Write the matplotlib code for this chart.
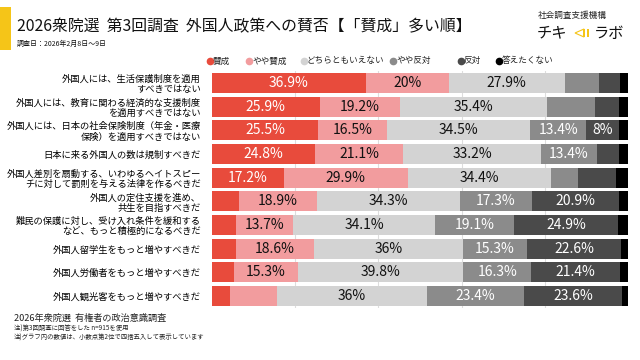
import matplotlib
matplotlib.use("Agg")
import matplotlib.pyplot as plt
from matplotlib.patches import Rectangle, Polygon
from matplotlib.lines import Line2D
import numpy as np

plt.rcParams['font.family'] = ['Noto Sans CJK JP', 'DejaVu Sans']

categories = [
    "外国人には、生活保護制度を適用\nすべきではない",
    "外国人には、教育に関わる経済的な支援制度\nを適用すべきではない",
    "外国人には、日本の社会保険制度（年金・医療\n保険）を適用すべきではない",
    "日本に来る外国人の数は規制すべきだ",
    "外国人差別を扇動する、いわゆるヘイトスピー\nチに対して罰則を与える法律を作るべきだ",
    "外国人の定住支援を進め、\n共生を目指すべきだ",
    "難民の保護に対し、受け入れ条件を緩和する\nなど、もっと積極的になるべきだ",
    "外国人留学生をもっと増やすべきだ",
    "外国人労働者をもっと増やすべきだ",
    "外国人観光客をもっと増やすべきだ",
]
series_names = ["賛成", "やや賛成", "どちらともいえない", "やや反対", "反対", "答えたくない"]
sansei     = [36.9, 25.9, 25.5, 24.8, 17.2, 6.4, 5.8, 5.8, 5.3, 4.3]
yaya_sansei = [20.0, 19.2, 16.5, 21.1, 29.9, 18.9, 13.7, 18.6, 15.3, 11.3]
dochira    = [27.9, 35.4, 34.5, 33.2, 34.4, 34.3, 34.1, 36.0, 39.8, 36.0]
yaya_hantai = [8.3, 11.5, 13.4, 13.4, 6.5, 17.3, 19.1, 15.3, 16.3, 23.4]
hantai     = [5.0, 5.8, 8.0, 5.3, 9.1, 20.9, 24.9, 22.6, 21.4, 23.6]
kotaetakunai = [1.9, 2.2, 2.1, 2.2, 2.9, 2.2, 2.4, 1.7, 1.9, 1.4]
# which segment values are printed on the bars (as in the original)
shown = [
    [1, 1, 1, 0, 0, 0],
    [1, 1, 1, 0, 0, 0],
    [1, 1, 1, 1, 1, 0],
    [1, 1, 1, 1, 0, 0],
    [1, 1, 1, 0, 0, 0],
    [0, 1, 1, 1, 1, 0],
    [0, 1, 1, 1, 1, 0],
    [0, 1, 1, 1, 1, 0],
    [0, 1, 1, 1, 1, 0],
    [0, 0, 1, 1, 1, 0],
]
colors = ["#E84B3C", "#F29C9E", "#D3D3D3", "#8B8B8B", "#4A4A4A", "#000000"]
text_colors = ["white", "#111111", "#111111", "white", "white", "white"]

series = [sansei, yaya_sansei, dochira, yaya_hantai, hantai, kotaetakunai]

fig = plt.figure(figsize=(6.4, 3.6), dpi=100)
fig.patch.set_facecolor("white")

ax = fig.add_axes([212/640, 1-308/360, 416/640, 237/360])
n = len(categories)
y = np.arange(n)
left = np.zeros(n)
for i, vals in enumerate(series):
    vals = np.array(vals)
    ax.barh(y, vals, left=left, height=0.84, color=colors[i], zorder=2, linewidth=0)
    for r in range(n):
        if shown[r][i]:
            ax.text(left[r] + vals[r]/2, y[r], f"{vals[r]:g}%", ha="center", va="center",
                    fontsize=10, color=text_colors[i], zorder=3)
    left += vals

ax.set_xlim(0, 100)
ax.set_ylim(n - 0.5, -0.5)
for gx in [20, 40, 60, 80]:
    ax.axvline(gx, color="#DDDDDD", lw=0.8, zorder=1)
for s in ax.spines.values():
    s.set_visible(False)
ax.set_xticks([])
ax.set_yticks(y)
ax.set_yticklabels(categories, fontsize=6.7, linespacing=1.15)
ax.tick_params(axis="y", length=0, pad=8)

# title block
fig.add_artist(Rectangle((0, 1-50/360), 11/640, 43/360, transform=fig.transFigure,
                         color="#F5C518", lw=0))
fig.text(17/640, 1-27/360, "2026衆院選  第3回調査  外国人政策への賛否【「賛成」多い順】",
         fontsize=11.4, va="center", ha="left", color="#111111")
fig.text(17/640, 1-43.5/360, "調査日：2026年2月8日～9日", fontsize=5, va="center", ha="left",
         color="#111111")

# logo
fig.text(538/640, 1-15.5/360, "社会調査支援機構", fontsize=6.2, va="center", ha="left", color="#222222")
fig.text(537/640, 1-33/360, "チキ", fontsize=11, va="center", ha="left", color="#111111")
fig.text(594/640, 1-33/360, "ラボ", fontsize=11, va="center", ha="left", color="#111111")
fig.add_artist(Polygon([(575/640, 1-33/360), (584/640, 1-29/360), (584/640, 1-37/360)],
                       closed=True, transform=fig.transFigure, fill=False, ec="#F5C518", lw=0.8))
fig.add_artist(Rectangle((583/640, 1-36.5/360), 2.4/640, 7/360, transform=fig.transFigure,
                         color="#F5C518", lw=0))
fig.add_artist(Rectangle((586.5/640, 1-36.5/360), 2.4/640, 7/360, transform=fig.transFigure,
                         color="#F5C518", lw=0))

# legend
leg_x = [207, 246, 301, 390, 458, 496]
for xpx, name, c in zip(leg_x, series_names, colors):
    fig.add_artist(Line2D([(xpx + 3)/640], [1-61/360], marker="o", markersize=4.5, color=c,
                          transform=fig.transFigure, lw=0))
    fig.text((xpx + 6)/640, 1-61/360, name, fontsize=6.2, va="center", ha="left", color="#222222")

# footer
fig.text(14/640, 1-318/360, "2026年衆院選  有権者の政治意識調査", fontsize=6.6, va="center",
         ha="left", color="#222222")
fig.text(14/640, 1-329/360, "注)第3回調査に回答をした n=915を使用", fontsize=4.6, va="center",
         ha="left", color="#222222")
fig.text(14/640, 1-338/360, "注)グラフ内の数値は、小数点第2位で四捨五入して表示しています", fontsize=4.6,
         va="center", ha="left", color="#222222")

fig.savefig("out.png", dpi=100)
